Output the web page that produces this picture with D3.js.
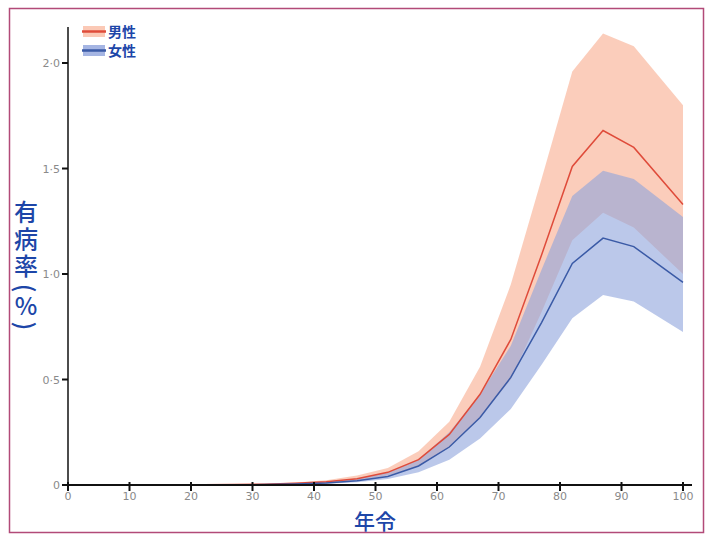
<!DOCTYPE html>
<meta charset="utf-8" />
<style>
  body { margin: 0; background: #fff; }
  #chart { width: 707px; height: 535px; }
  .tick-label { font-family: "DejaVu Sans", sans-serif; font-size: 11px; fill: #8a8a8a; }
  .cjk { font-family: "Noto Sans CJK JP", "Noto Sans CJK SC", sans-serif; fill: #1d46a8; }
</style>
<body>
  <div id="chart"></div>
  <script src="https://d3js.org/d3.v7.min.js"></script>
  <script>
    // age points (mid of 5-year groups)
    const ages = [0, 7, 12, 17, 22, 27, 32, 37, 42, 47, 52, 57, 62, 67, 72, 77, 82, 87, 92, 100];
    const male = [0, 0, 0, 0, 0.001, 0.002, 0.004, 0.008, 0.015, 0.03, 0.06, 0.12, 0.24, 0.43, 0.69, 1.09, 1.51, 1.68, 1.6, 1.33];
    const maleLow = [0, 0, 0, 0, 0, 0.001, 0.002, 0.005, 0.01, 0.02, 0.045, 0.09, 0.18, 0.32, 0.5, 0.82, 1.16, 1.29, 1.22, 1.0];
    const maleHigh = [0, 0, 0, 0, 0.002, 0.003, 0.006, 0.012, 0.022, 0.045, 0.08, 0.16, 0.3, 0.56, 0.95, 1.45, 1.96, 2.14, 2.08, 1.8];
    const female = [0, 0, 0, 0, 0, 0.001, 0.002, 0.005, 0.01, 0.02, 0.04, 0.09, 0.18, 0.32, 0.51, 0.77, 1.05, 1.17, 1.13, 0.96];
    const femaleLow = [0, 0, 0, 0, 0, 0, 0.001, 0.003, 0.006, 0.013, 0.028, 0.06, 0.12, 0.22, 0.36, 0.57, 0.79, 0.9, 0.87, 0.725];
    const femaleHigh = [0, 0, 0, 0, 0.001, 0.002, 0.004, 0.008, 0.015, 0.03, 0.06, 0.12, 0.25, 0.43, 0.66, 1.02, 1.37, 1.49, 1.45, 1.27];

    const xTicks = [0, 10, 20, 30, 40, 50, 60, 70, 80, 90, 100];
    const yTicks = [0, 0.5, 1.0, 1.5, 2.0];
    const yTickLabels = ["0", "0·5", "1·0", "1·5", "2·0"];
    const legendNames = ["男性", "女性"];

    const width = 707, height = 535;

    const svg = d3.select("#chart").append("svg")
      .attr("width", width)
      .attr("height", height);

    // outer frame
    svg.append("rect")
      .attr("x", 9.5).attr("y", 8.5)
      .attr("width", 694).attr("height", 524)
      .attr("fill", "none")
      .attr("stroke", "#b24a78")
      .attr("stroke-width", 1.5);

    const x = d3.scaleLinear().domain([0, 100]).range([68, 683]);
    const y = d3.scaleLinear().domain([0, 2.166]).range([485, 28]);

    const series = [
      { mid: male, lo: maleLow, hi: maleHigh, line: "#df4b3a", band: "#fabca4", op: 0.75 },
      { mid: female, lo: femaleLow, hi: femaleHigh, line: "#3a5aa6", band: "#8ea3dc", op: 0.6 }
    ];

    const area = (s) => d3.area()
      .x((d, i) => x(ages[i]))
      .y0((d, i) => y(s.lo[i]))
      .y1((d, i) => y(s.hi[i]));

    const line = d3.line()
      .x((d, i) => x(ages[i]))
      .y((d) => y(d));

    series.forEach((s) => {
      svg.append("path")
        .attr("d", area(s)(ages))
        .attr("fill", s.band)
        .attr("fill-opacity", s.op);
    });
    series.forEach((s) => {
      svg.append("path")
        .attr("d", line(s.mid))
        .attr("fill", "none")
        .attr("stroke", s.line)
        .attr("stroke-width", 1.5);
    });

    // axes
    svg.append("line")
      .attr("x1", 68).attr("x2", 692)
      .attr("y1", y(0)).attr("y2", y(0))
      .attr("stroke", "#111").attr("stroke-width", 2);
    svg.append("line")
      .attr("x1", 68).attr("x2", 68)
      .attr("y1", y(0)).attr("y2", 27)
      .attr("stroke", "#111").attr("stroke-width", 1.5);

    const gx = svg.append("g");
    gx.selectAll("line").data(xTicks).join("line")
      .attr("x1", (d) => x(d)).attr("x2", (d) => x(d))
      .attr("y1", y(0) - 3).attr("y2", y(0) + 6)
      .attr("stroke", "#111").attr("stroke-width", 2);
    gx.selectAll("text").data(xTicks).join("text")
      .attr("class", "tick-label")
      .attr("x", (d) => x(d)).attr("y", y(0) + 15)
      .attr("text-anchor", "middle")
      .text((d) => d);

    const gy = svg.append("g");
    gy.selectAll("line").data(yTicks).join("line")
      .attr("x1", 62).attr("x2", 68)
      .attr("y1", (d) => y(d)).attr("y2", (d) => y(d))
      .attr("stroke", "#111").attr("stroke-width", 2);
    gy.selectAll("text").data(yTicks).join("text")
      .attr("class", "tick-label")
      .attr("x", 60).attr("y", (d) => y(d) + 4)
      .attr("text-anchor", "end")
      .text((d, i) => yTickLabels[i]);

    // axis titles
    svg.append("text")
      .attr("class", "cjk")
      .attr("x", 375).attr("y", 529)
      .attr("text-anchor", "middle")
      .attr("font-size", 21)
      .attr("font-weight", 500)
      .text("年令");

    // vertical y title, parens turned sideways like in vertical writing
    const yChars = ["有", "病", "率", "(", "%", ")"];
    const yCharPos = [221, 248, 275, 288, 315, 326];
    const yCharRot = [0, 0, 0, 90, 0, 90];
    svg.append("g").selectAll("text").data(yChars).join("text")
      .attr("class", "cjk")
      .attr("transform", (d, i) => `translate(26,${yCharPos[i]}) rotate(${yCharRot[i]})`)
      .attr("text-anchor", "middle")
      .attr("dominant-baseline", (d, i) => (yCharRot[i] ? "central" : "auto"))
      .attr("font-size", 24)
      .attr("font-weight", 500)
      .text((d) => d);

    // legend
    const lg = svg.append("g").attr("transform", "translate(82,26)");
    series.forEach((s, i) => {
      const row = lg.append("g").attr("transform", `translate(0,${i * 19})`);
      row.append("rect")
        .attr("x", 1).attr("y", 0).attr("width", 22).attr("height", 11)
        .attr("fill", s.band).attr("fill-opacity", 0.8);
      row.append("line")
        .attr("x1", 0).attr("x2", 24).attr("y1", 5.5).attr("y2", 5.5)
        .attr("stroke", s.line).attr("stroke-width", 2.5);
      row.append("text")
        .attr("class", "cjk")
        .attr("x", 26).attr("y", 11)
        .attr("font-size", 14)
        .attr("font-weight", "bold")
        .attr("fill", "#1a3c9c")
        .text(legendNames[i]);
    });
  </script>
</body>
